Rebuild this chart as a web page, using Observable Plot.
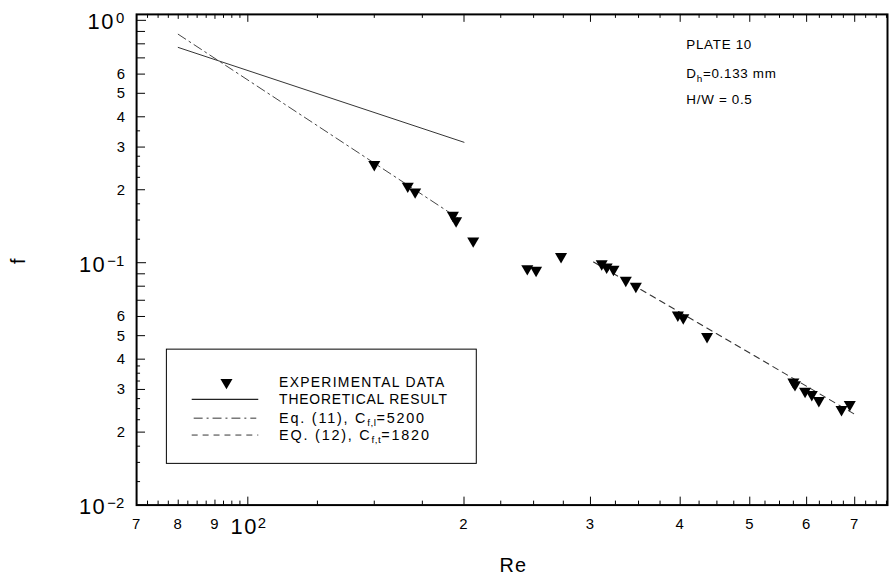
<!DOCTYPE html>
<html><head><meta charset="utf-8">
<script src="https://cdn.jsdelivr.net/npm/d3@7"></script>
<script src="https://cdn.jsdelivr.net/npm/@observablehq/plot@0.6"></script>
<style>
body{margin:0;background:#fff;}
#wrap{position:relative;width:889px;height:579px;overflow:hidden;}
text{font-family:"Liberation Sans",Arial,sans-serif;}
</style></head><body><div id="wrap"></div>
<script>
// ---- data ----
const expRe = [150, 167, 171, 193, 195, 206, 245, 252, 273, 311, 316, 323, 336, 347, 397, 404, 436, 575, 578, 597, 610, 624, 671, 689];
const expF  = [0.254, 0.207, 0.196, 0.157, 0.149, 0.123, 0.0945, 0.093, 0.106, 0.099, 0.096, 0.094, 0.0846, 0.080, 0.0608, 0.0593, 0.0496, 0.0322, 0.0314, 0.0295, 0.0286, 0.027, 0.0248, 0.026];
const theoRe = [80, 200];
const theoF  = [0.773, 0.314];
const eq11Re = [80, 198];
const eq11F  = [0.876, 0.150];
const eq12Re = [303, 700];
const eq12F  = [0.1006, 0.0237];

const xLabelValues = [70, 80, 90, 200, 300, 400, 500, 600, 700];
const xLabelTexts  = ["7", "8", "9", "2", "3", "4", "5", "6", "7"];
const xDecades = [100];
const xDecadeExp = ["2"];
const yLabelValues = [0.6, 0.5, 0.4, 0.3, 0.2, 0.06, 0.05, 0.04, 0.03, 0.02];
const yLabelTexts  = ["6", "5", "4", "3", "2", "6", "5", "4", "3", "2"];
const yDecades = [1, 0.1, 0.01];
const yDecadeExp = ["0", "\u22121", "\u22122"];

const xTickLong  = [100, 200, 300, 400, 500, 600, 700];
const xTickMid   = [70, 80, 90];
const xTickShort = [72.5, 75, 77.5, 82.5, 85, 87.5, 92.5, 95, 97.5, 125, 150, 175, 225, 250, 275, 325, 350, 375, 425, 450, 475, 525, 550, 575, 625, 650, 675, 725, 750, 775];
const yTickLong  = [1, 0.1, 0.01];
const yTickMid   = [0.9, 0.8, 0.7, 0.6, 0.5, 0.4, 0.3, 0.2, 0.09, 0.08, 0.07, 0.06, 0.05, 0.04, 0.03, 0.02];
const yTickShort = [0.175, 0.15, 0.125, 0.0375, 0.035, 0.0325, 0.0275, 0.025, 0.0225, 0.35, 0.275, 0.25, 0.225, 0.0175, 0.015, 0.0125];

const legendLabels = ["EXPERIMENTAL DATA", "THEORETICAL RESULT"];

// ---- chart ----
const W = 895, H = 579, ML = 137, MT = 14, MB = 71, MR = 2;
const PH = H - MT - MB, PW = W - ML - MR;

const triDown = {
  draw(ctx, size) {
    const s3 = Math.sqrt(3);
    const y = Math.sqrt(size / (s3 * 3));
    ctx.moveTo(0, 2 * y);
    ctx.lineTo(-s3 * y, -y);
    ctx.lineTo(s3 * y, -y);
    ctx.closePath();
  }
};

const exp = expRe.map((x, i) => ({x, y: expF[i]}));
const theo = theoRe.map((x, i) => ({x, y: theoF[i]}));
const eq11 = eq11Re.map((x, i) => ({x, y: eq11F[i]}));
const eq12 = eq12Re.map((x, i) => ({x, y: eq12F[i]}));

const tk = {stroke: "black", strokeWidth: 1};
const chart = Plot.plot({
  width: W, height: H, marginLeft: ML, marginTop: MT, marginBottom: MB, marginRight: MR,
  style: {background: "white", color: "black", fontFamily: "Liberation Sans, Arial, sans-serif"},
  x: {type: "log", domain: [70, 777.6]},
  y: {type: "log", domain: [0.01, 1.058]},
  marks: [
    Plot.axisX([], {tickSize: 0, label: null}),
    Plot.axisY([], {tickSize: 0, label: null}),
    Plot.tickX(xTickLong, {x: d => d, insetTop: PH - 8, ...tk}),
    Plot.tickX(xTickMid, {x: d => d, insetTop: PH - 5, ...tk}),
    Plot.tickX(xTickShort, {x: d => d, insetTop: PH - 4, ...tk}),
    Plot.tickX(xTickLong, {x: d => d, insetBottom: PH - 8, ...tk}),
    Plot.tickX(xTickMid, {x: d => d, insetBottom: PH - 5, ...tk}),
    Plot.tickX(xTickShort, {x: d => d, insetBottom: PH - 4, ...tk}),
    Plot.tickY(yTickLong, {y: d => d, insetRight: PW - 10, ...tk}),
    Plot.tickY(yTickMid, {y: d => d, insetRight: PW - 9, ...tk}),
    Plot.tickY(yTickShort, {y: d => d, insetRight: PW - 4, ...tk}),
    Plot.frame({stroke: "black", strokeWidth: 2}),
    Plot.line(theo, {x: "x", y: "y", stroke: "#333", strokeWidth: 1}),
    Plot.line(eq11, {x: "x", y: "y", stroke: "#444", strokeWidth: 1, strokeDasharray: "9,4,2,4"}),
    Plot.line(eq12, {x: "x", y: "y", stroke: "#333", strokeWidth: 1.1, strokeDasharray: "6,5"}),
    Plot.dot(exp, {x: "x", y: "y", symbol: triDown, r: 4.5, fill: "black", stroke: "none"})
  ]
});
document.getElementById("wrap").appendChild(chart);

const sx = chart.scale("x"), sy = chart.scale("y");
const svg = d3.select(chart);
const g = svg.append("g").attr("fill", "black").attr("text-anchor", "start");

// x tick labels
xLabelValues.forEach((v, i) => {
  g.append("text").attr("x", sx.apply(v)).attr("y", 533).attr("text-anchor", "middle")
    .attr("font-size", 15).text(xLabelTexts[i]);
});
xDecades.forEach((v, i) => {
  const t = g.append("text").attr("x", sx.apply(v) + 1).attr("y", 538).attr("text-anchor", "middle");
  t.append("tspan").attr("font-size", 22).attr("letter-spacing", 1.5).text("10");
  t.append("tspan").attr("font-size", 15).attr("dy", -6).text(xDecadeExp[i]);
});
// y tick labels
yLabelValues.forEach((v, i) => {
  g.append("text").attr("x", 126).attr("y", sy.apply(v) + 5.5).attr("text-anchor", "end")
    .attr("font-size", 15).text(yLabelTexts[i]);
});
yDecades.forEach((v, i) => {
  const t = g.append("text").attr("x", 125).attr("y", sy.apply(v) + 9.5).attr("text-anchor", "end");
  t.append("tspan").attr("font-size", 22).attr("letter-spacing", 1.5).text("10");
  t.append("tspan").attr("font-size", 15).attr("dy", -6).attr("dx", 1).text(yDecadeExp[i]);
});
// axis titles
g.append("text").attr("transform", "translate(25,263) rotate(-90)").attr("text-anchor", "middle")
  .attr("font-size", 20).text("f");
g.append("text").attr("x", 503).attr("y", 576).attr("text-anchor", "start").attr("font-size", 20)
  .attr("letter-spacing", 1).text("Re");

// annotation
const ann = g.append("g").attr("font-size", 13.5).attr("letter-spacing", 0.7).attr("text-anchor", "start");
ann.append("text").attr("x", 691).attr("y", 49).text("PLATE 10");
const dh = ann.append("text").attr("x", 691).attr("y", 79);
dh.append("tspan").text("D");
dh.append("tspan").attr("font-size", 10).attr("dy", 4).text("h");
dh.append("tspan").attr("dy", -4).text("=0.133 mm");
ann.append("text").attr("x", 691).attr("y", 105).text("H/W = 0.5");

// legend
const lg = svg.append("g").attr("text-anchor", "start");
lg.append("rect").attr("x", 167.5).attr("y", 351.5).attr("width", 312).attr("height", 115)
  .attr("fill", "white").attr("stroke", "black").attr("stroke-width", 1);
const rows = [385, 402, 421, 438];
lg.append("path").attr("d", d3.symbol(triDown, 4.5 * 4.5 * Math.PI)())
  .attr("transform", `translate(228,${rows[0]})`).attr("fill", "black");
lg.append("line").attr("x1", 193).attr("x2", 260).attr("y1", rows[1]).attr("y2", rows[1]).attr("stroke", "#222").attr("stroke-width", 1.2);
lg.append("line").attr("x1", 195).attr("x2", 258).attr("y1", rows[2]).attr("y2", rows[2]).attr("stroke", "#333").attr("stroke-dasharray", "9,4,2,4");
lg.append("line").attr("x1", 193).attr("x2", 260).attr("y1", rows[3]).attr("y2", rows[3]).attr("stroke", "#333").attr("stroke-dasharray", "6,5");
const lt = lg.append("g").attr("font-size", 14).attr("fill", "black");
lt.append("text").attr("x", 281).attr("y", rows[0] + 5).attr("letter-spacing", 1.3).text(legendLabels[0]);
lt.append("text").attr("x", 281).attr("y", rows[1] + 5).attr("letter-spacing", 0.8).text(legendLabels[1]);
const e11 = lt.append("text").attr("x", 281).attr("y", rows[2] + 5).attr("font-size", 14.5).attr("letter-spacing", 1.8);
e11.append("tspan").text("Eq. (11), C");
e11.append("tspan").attr("font-size", 10).attr("dy", 3).attr("letter-spacing", 0.5).text("f,l");
e11.append("tspan").attr("dy", -3).text("=5200");
const e12 = lt.append("text").attr("x", 281).attr("y", rows[3] + 5).attr("font-size", 14.5).attr("letter-spacing", 1.8);
e12.append("tspan").text("EQ. (12), C");
e12.append("tspan").attr("font-size", 10).attr("dy", 3).attr("letter-spacing", 0.5).text("f,t");
e12.append("tspan").attr("dy", -3).text("=1820");
</script></body></html>
